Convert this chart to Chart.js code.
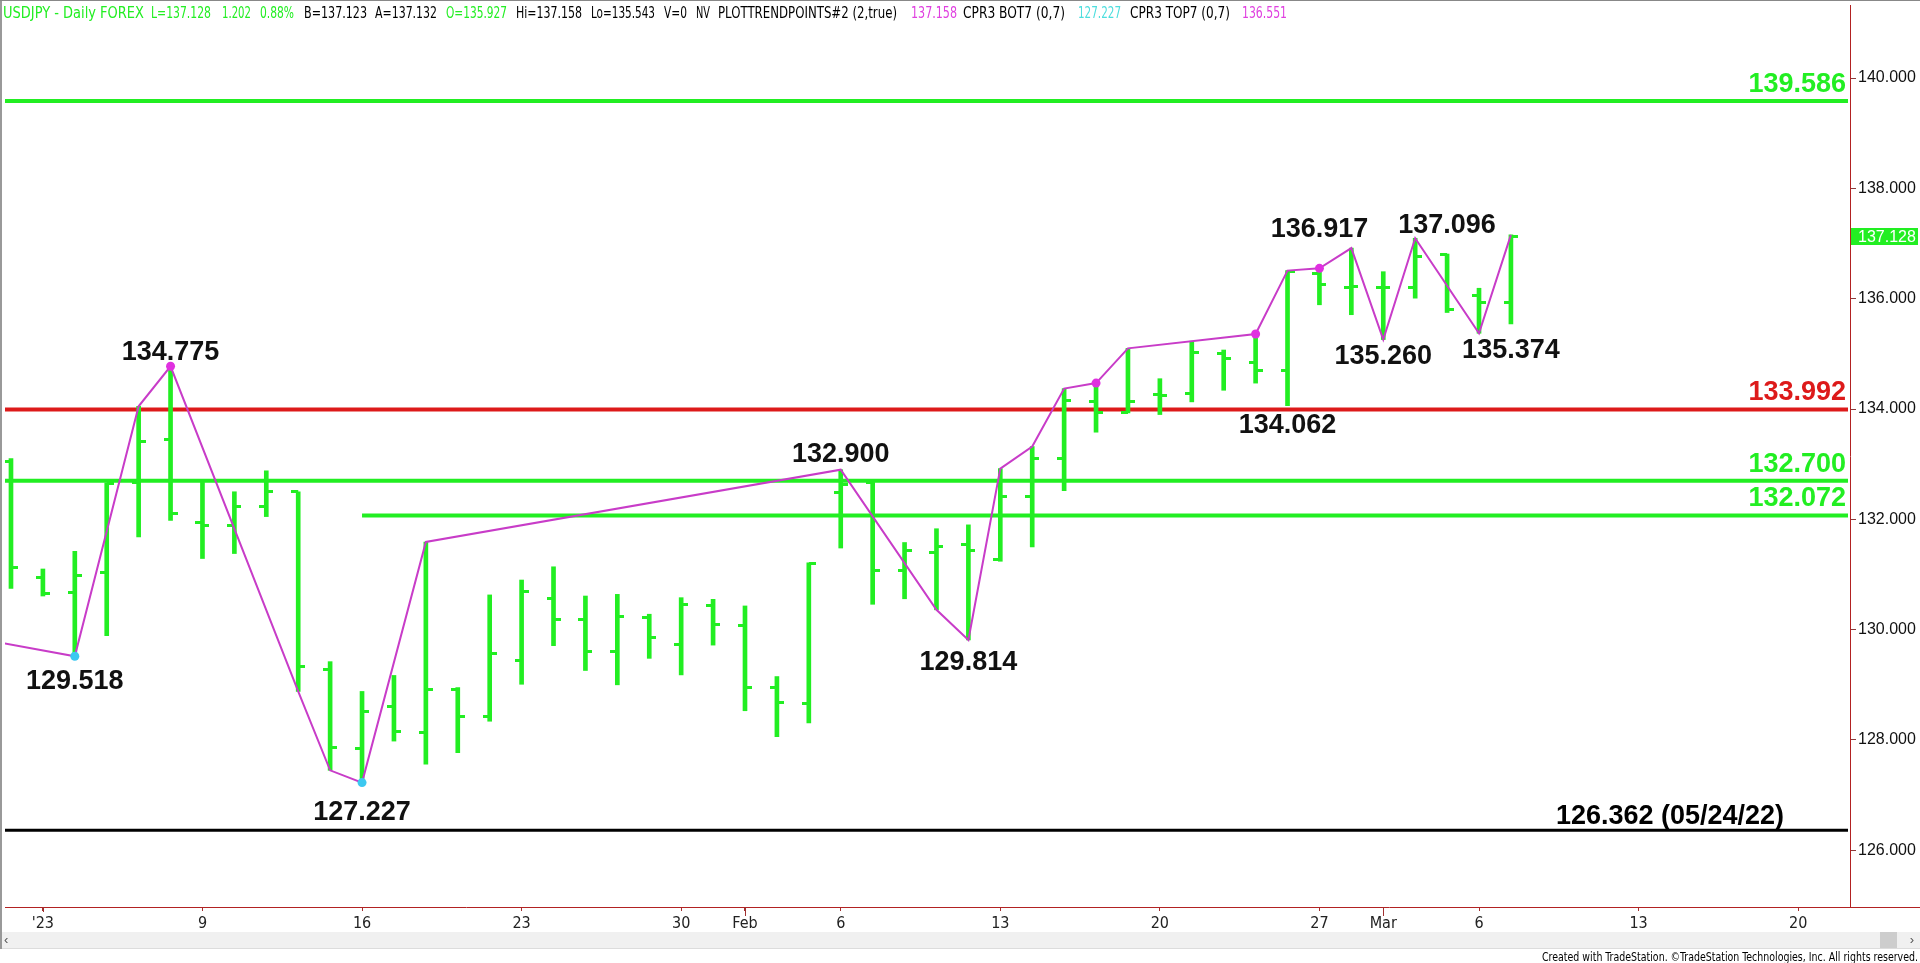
<!DOCTYPE html>
<html><head><meta charset="utf-8">
<script src="https://cdn.jsdelivr.net/npm/chart.js@4.4.1/dist/chart.umd.min.js"></script>
<style>html,body{margin:0;padding:0;background:#fff;overflow:hidden}canvas{display:block}</style>
</head><body>
<canvas id="c" width="1920" height="963"></canvas>
<script>
// ================= DATA =================
const dates = ['12/30','01/02','01/03','01/04','01/05','01/06','01/09','01/10','01/11','01/12','01/13',
  '01/16','01/17','01/18','01/19','01/20','01/23','01/24','01/25','01/26','01/27','01/30','01/31',
  '02/01','02/02','02/03','02/06','02/07','02/08','02/09','02/10','02/13','02/14','02/15','02/16','02/17',
  '02/20','02/21','02/22','02/23','02/24','02/27','02/28','03/01','03/02','03/03','03/06','03/07'];
const opens  = [133.04,130.94,130.68,131.03,132.67,133.44,131.94,131.88,132.24,132.50,129.28,
  127.84,128.61,128.13,128.92,128.43,129.45,130.56,130.18,129.60,130.22,129.73,130.43,
  130.08,128.95,128.67,132.49,132.66,131.08,131.40,131.55,131.28,132.42,133.11,134.14,133.94,
  134.26,134.29,135.00,134.85,134.69,136.46,136.21,136.21,136.21,136.80,136.05,135.927];
const highs  = [133.10,131.10,131.42,132.66,134.05,134.775,132.67,132.50,132.88,132.50,129.42,
  128.88,129.17,131.59,128.95,130.63,130.90,131.14,130.61,130.64,130.28,130.58,130.55,
  130.43,129.15,131.21,132.900,132.67,131.58,131.83,131.90,132.92,133.32,134.37,134.47,135.10,
  134.55,135.23,135.07,135.36,136.51,136.551,136.917,136.49,137.096,136.81,136.19,137.158];
const lows   = [130.75,130.61,129.518,129.89,131.68,131.98,131.29,131.38,132.05,128.88,127.45,
  127.227,127.98,127.56,127.77,128.34,129.01,129.71,129.26,129.00,129.48,129.18,129.72,
  128.53,128.06,128.31,131.48,130.46,130.56,130.36,129.814,131.24,131.50,132.52,133.58,133.93,
  133.90,134.13,134.34,134.47,134.062,135.89,135.71,135.260,136.01,135.75,135.374,135.543];
const closes = [131.12,130.66,130.99,132.65,133.42,132.10,131.89,132.24,132.50,129.33,127.86,
  128.52,128.16,128.91,128.43,129.57,130.69,130.18,129.60,130.23,129.86,130.45,130.10,
  128.96,128.68,131.20,132.63,131.08,131.44,131.51,131.44,132.42,133.10,134.16,133.94,134.14,
  134.24,135.03,134.92,134.69,136.49,136.25,136.23,136.21,136.77,135.81,135.93,137.128];

// zigzag (PLOTTRENDPOINTS) vertices: bar index + price
const zigzagIdx = [-2, 2, 4, 5, 9, 10, 11, 13, 26, 29, 30, 31, 32, 33, 34, 35, 39, 40, 41, 42, 43, 44, 46, 47];
const zigzagVal = [129.94,129.518,134.05,134.775,128.88,127.45,127.227,131.59,132.900,130.36,129.814,132.92,
  133.32,134.37,134.47,135.10,135.36,136.51,136.551,136.917,135.260,137.096,135.374,137.158];
// pivot dots
const topDotIdx = [5, 34, 39, 41];
const botDotIdx = [2, 11];

// horizontal levels
const levelValues = [139.586, 133.992, 132.700, 132.072, 126.362];
const levelTexts  = ['139.586', '133.992', '132.700', '132.072', '126.362 (05/24/22)'];
const levelStartIdx = [-1, -1, -1, 11, -1];

// pivot price labels (anchor bar index, price)
const pivotTexts = ['134.775','129.518','127.227','132.900','129.814','134.062','136.917','137.096','135.260','135.374'];
const pivotIdx   = [5, 2, 11, 26, 30, 40, 41, 45, 43, 47];
const pivotVal   = [134.775,129.518,127.227,132.900,129.814,134.062,136.917,137.096,135.260,135.374];

// axis ticks
const xTickIdx    = [1, 6, 11, 16, 21, 23, 26, 31, 36, 41, 43, 46, 51, 56];
const xTickLabels = ["'23",'9','16','23','30','Feb','6','13','20','27','Mar','6','13','20'];
const monthTickIdx = [1, 23, 43];
const yTickValues = [126, 128, 130, 132, 134, 136, 138, 140];

// ================= STYLE =================
const GREEN = '#22ee22', RED = '#dd1a1a', MAG = '#c83cc8', DOTM = '#e030e0', DOTC = '#3cc8f0';
const NARROW = "'Liberation Sans Narrow','Arial Narrow','DejaVu Sans Condensed',sans-serif";
const ARIAL = "'Liberation Sans',Arial,sans-serif";
const levelColors = [GREEN, RED, GREEN, GREEN, '#000'];
const levelWidths = [4, 4, 4, 4, 3];
const pivotDy = [-6, 33, 37, -8, 30, 27, -11, -5, 24, 25];
const headerSegs = [
  ['USDJPY - Daily FOREX', 3, 144, GREEN],
  ['L=' + closes[47].toFixed(3), 151, 211, GREEN],
  ['1.202', 222, 251, GREEN],
  ['0.88%', 260, 294, GREEN],
  ['B=137.123', 304, 367, '#000'],
  ['A=137.132', 375, 437, '#000'],
  ['O=' + opens[47].toFixed(3), 446, 507, GREEN],
  ['Hi=' + highs[47].toFixed(3), 516, 582, '#000'],
  ['Lo=' + lows[47].toFixed(3), 591, 655, '#000'],
  ['V=0', 664, 687, '#000'],
  ['NV', 696, 710, '#000'],
  ['PLOTTRENDPOINTS#2 (2,true)', 718, 897, '#000'],
  ['137.158', 911, 957, '#e040e0'],
  ['CPR3 BOT7 (0,7)', 963, 1065, '#000'],
  ['127.227', 1078, 1121, '#4ddede'],
  ['CPR3 TOP7 (0,7)', 1130, 1230, '#000'],
  ['136.551', 1242, 1287, '#e040e0'],
];

function tickImg(side) {
  const L = 7, T = 3;
  const c = document.createElement('canvas');
  c.width = 2 * L; c.height = T;
  const g = c.getContext('2d');
  g.fillStyle = GREEN;
  g.fillRect(side === 'left' ? 0 : L, 0, L, T);
  return c;
}

function fitText(ctx, text, x0, x1, y, color, font) {
  ctx.save();
  ctx.font = font;
  const w = ctx.measureText(text).width;
  ctx.translate(x0, y);
  ctx.scale((x1 - x0) / w, 1);
  ctx.fillStyle = color;
  ctx.textAlign = 'left';
  ctx.textBaseline = 'alphabetic';
  ctx.fillText(text, 0, 0);
  ctx.restore();
}

const X_MIN = -0.1875, X_MAX = 57.625, X_LINE_END = 57.5625;

const datasets = [];
// pivot dots
datasets.push({
  type: 'line', showLine: false, order: 0,
  data: topDotIdx.map(i => ({x: i, y: highs[i]})).concat(botDotIdx.map(i => ({x: i, y: lows[i]}))),
  pointRadius: 4.5, pointBorderWidth: 0,
  pointBackgroundColor: topDotIdx.map(() => DOTM).concat(botDotIdx.map(() => DOTC))
});
// zigzag
datasets.push({
  type: 'line', order: 1, data: zigzagIdx.map((x, k) => ({x, y: zigzagVal[k]})),
  borderColor: MAG, borderWidth: 2, pointRadius: 0, tension: 0, fill: false
});
// open / close ticks
datasets.push({
  type: 'line', showLine: false, order: 2, data: opens.map((v, i) => ({x: i, y: v})),
  pointStyle: tickImg('left'), pointRadius: 3
});
datasets.push({
  type: 'line', showLine: false, order: 2, data: closes.map((v, i) => ({x: i, y: v})),
  pointStyle: tickImg('right'), pointRadius: 3
});
// high-low bars
datasets.push({
  type: 'bar', order: 3, data: highs.map((h, i) => ({x: i, y: [lows[i], h]})),
  backgroundColor: GREEN, borderWidth: 0, barThickness: 4, grouped: false
});
// levels
levelValues.forEach((v, k) => {
  datasets.push({
    type: 'line', order: 4, clip: 0,
    data: [{x: levelStartIdx[k], y: v}, {x: X_LINE_END, y: v}],
    borderColor: levelColors[k], borderWidth: levelWidths[k], pointRadius: 0, borderCapStyle: 'butt'
  });
});

const decor = {
  id: 'decor',
  afterDatasetsDraw(chart) {
    const ctx = chart.ctx, xs = chart.scales.x, ys = chart.scales.y;
    ctx.save();
    ctx.font = 'bold 27px ' + ARIAL;
    ctx.textBaseline = 'alphabetic';
    levelValues.forEach((v, k) => {
      const y = ys.getPixelForValue(v);
      ctx.fillStyle = levelColors[k];
      if (k === 4) { ctx.textAlign = 'center'; ctx.fillText(levelTexts[k], 1670, y - 6); }
      else { ctx.textAlign = 'right'; ctx.fillText(levelTexts[k], 1846, y - 9); }
    });
    ctx.fillStyle = '#111';
    ctx.textAlign = 'center';
    pivotTexts.forEach((t, k) => {
      ctx.fillText(t, xs.getPixelForValue(pivotIdx[k]), ys.getPixelForValue(pivotVal[k]) + pivotDy[k]);
    });
    ctx.restore();
  },
  afterDraw(chart) {
    const ctx = chart.ctx, xs = chart.scales.x, ys = chart.scales.y, a = chart.chartArea;
    ctx.save();
    headerSegs.forEach(s => fitText(ctx, s[0], s[1], s[2], 18, s[3], '16px ' + NARROW));
    ctx.strokeStyle = '#b22222'; ctx.lineWidth = 1;
    ctx.beginPath(); ctx.moveTo(a.right, a.bottom + 0.5); ctx.lineTo(1920, a.bottom + 0.5); ctx.stroke();
    ctx.strokeStyle = '#a03030';
    monthTickIdx.forEach(i => {
      const x = Math.round(xs.getPixelForValue(i)) + 0.5;
      ctx.beginPath(); ctx.moveTo(x, a.bottom); ctx.lineTo(x, a.bottom + (i === 1 ? 5 : 9)); ctx.stroke();
    });
    const yb = ys.getPixelForValue(closes[closes.length - 1]);
    ctx.fillStyle = GREEN;
    ctx.fillRect(a.right + 1, Math.round(yb - 8.5), 67, 17);
    ctx.fillStyle = '#fff';
    ctx.font = '16px ' + ARIAL; ctx.textAlign = 'left'; ctx.textBaseline = 'middle';
    ctx.fillText(closes[closes.length - 1].toFixed(3), a.right + 8, yb + 1);
    ctx.fillStyle = '#f0f0f0'; ctx.fillRect(0, 932, 1920, 16);
    ctx.fillStyle = '#cdcdcd'; ctx.fillRect(1880, 932, 17, 16);
    ctx.fillStyle = '#dcdcdc'; ctx.fillRect(0, 948, 1920, 1);
    ctx.fillStyle = '#555'; ctx.font = '13px ' + ARIAL; ctx.textBaseline = 'middle';
    ctx.textAlign = 'left'; ctx.fillText('‹', 4, 940);
    ctx.textAlign = 'right'; ctx.fillText('›', 1914, 940);
    fitText(ctx, 'Created with TradeStation. \u00A9TradeStation Technologies, Inc. All rights reserved.', 1542, 1918, 961, '#000', '13px ' + NARROW);
    ctx.fillStyle = '#999'; ctx.fillRect(0, 0, 2, 949);
    ctx.fillStyle = '#888'; ctx.fillRect(0, 0, 1920, 1);
    ctx.restore();
  }
};

new Chart(document.getElementById('c'), {
  type: 'bar',
  data: {datasets},
  plugins: [decor],
  options: {
    responsive: false, animation: false, devicePixelRatio: 1,
    layout: {padding: 0},
    plugins: {legend: {display: false}, tooltip: {enabled: false}},
    scales: {
      x: {
        type: 'linear', min: X_MIN, max: X_MAX, offset: false,
        grid: {drawOnChartArea: false, drawTicks: true, tickLength: 4, color: '#a03030', offset: false},
        border: {display: true, color: '#b22222', width: 1},
        ticks: {
          autoSkip: false, maxRotation: 0, padding: 3, color: '#222',
          font: {family: NARROW, size: 16},
          callback: v => { const k = xTickIdx.indexOf(v); return k >= 0 ? xTickLabels[k] : ''; }
        },
        afterBuildTicks: s => { s.ticks = xTickIdx.map(v => ({value: v})); },
        afterFit: s => { s.height = 56; s.paddingLeft = 0; s.paddingRight = 0; s.paddingTop = 0; s.paddingBottom = 0; }
      },
      y: {
        type: 'linear', position: 'right', min: 124.972, max: 141.325,
        grid: {drawOnChartArea: false, drawTicks: true, tickLength: 6, color: '#8b3a3a'},
        border: {display: true, color: '#b22222', width: 1},
        ticks: {
          includeBounds: false, padding: 2, color: '#111',
          font: {family: ARIAL, size: 16},
          callback: v => Number(v).toFixed(3)
        },
        afterBuildTicks: s => { s.ticks = yTickValues.map(v => ({value: v})); },
        afterFit: s => { s.width = 70; s.paddingTop = 0; s.paddingBottom = 0; s.paddingLeft = 0; s.paddingRight = 0; }
      }
    }
  }
});
</script>
</body></html>
